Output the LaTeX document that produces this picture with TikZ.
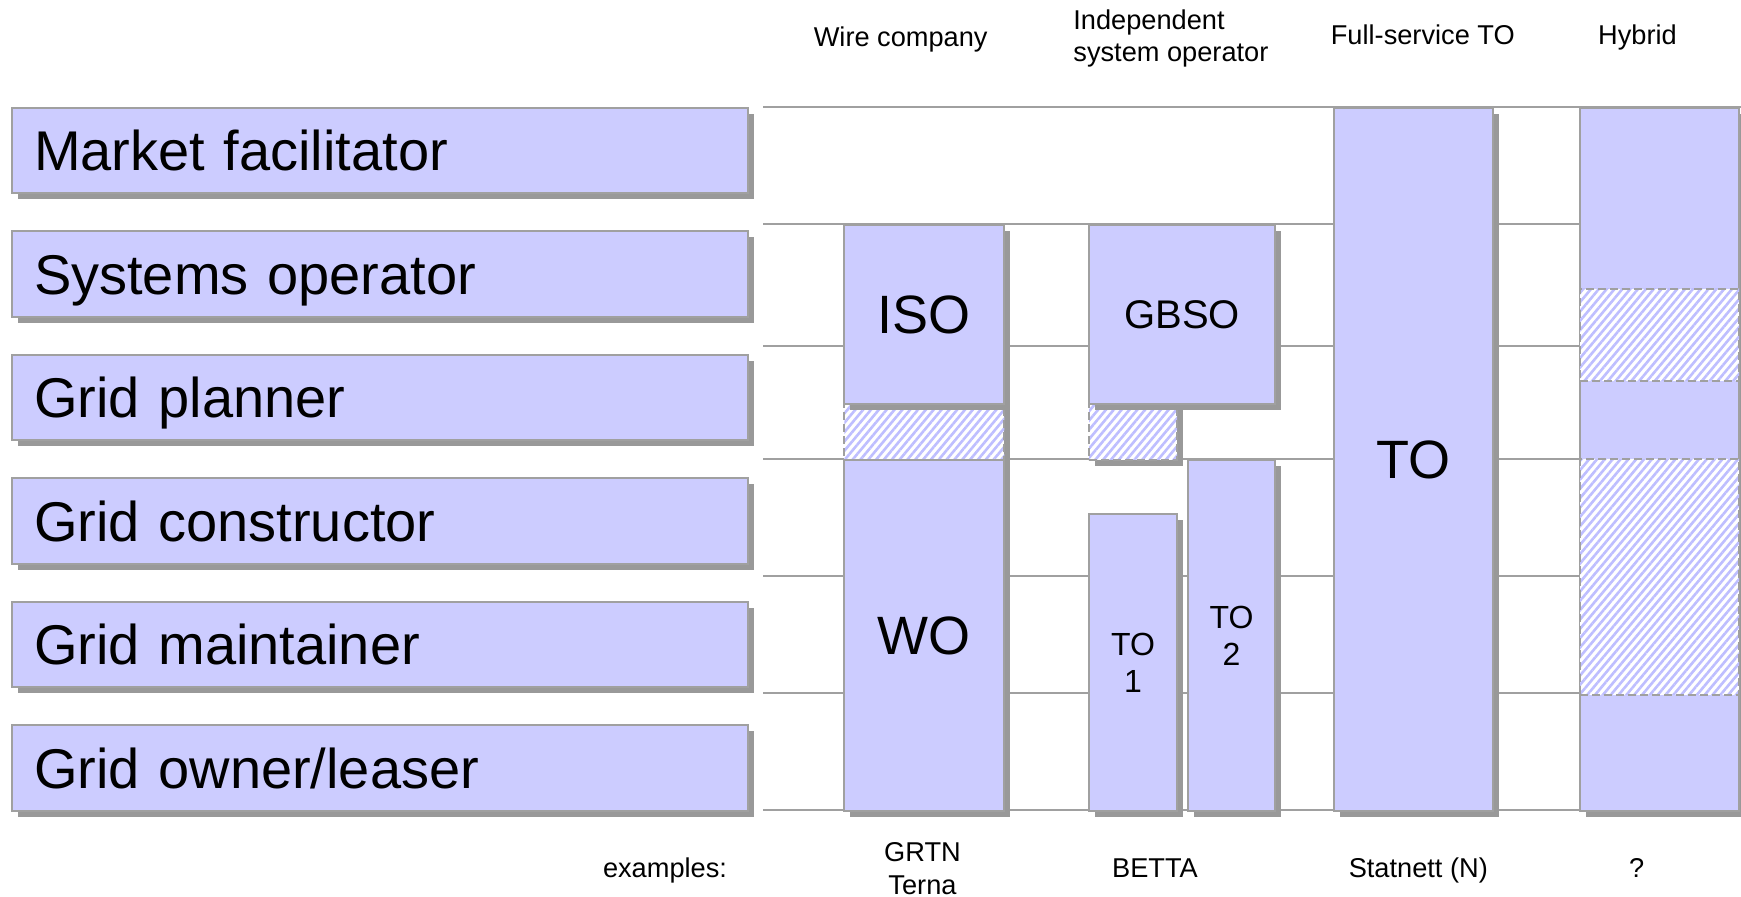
\documentclass[tikz,border=0pt]{standalone}
\usepackage{fontspec}
\setmainfont{Liberation Sans}
\usetikzlibrary{shadows,patterns.meta}

\definecolor{boxfill}{RGB}{204,204,255}
\definecolor{boxline}{RGB}{160,160,160}
\definecolor{shade}{RGB}{153,153,153}
\definecolor{hatch}{RGB}{190,190,255}

\newcommand{\rolesize}{\fontsize{28}{32}\selectfont}
\newcommand{\tagsize}{\fontsize{27}{32}\selectfont}
\newcommand{\gbsosize}{\fontsize{20}{24}\selectfont}
\newcommand{\tosize}{\fontsize{16}{18.5}\selectfont}
\newcommand{\notesize}{\fontsize{13.6}{16.2}\selectfont}

\begin{document}
\begin{tikzpicture}[x=0.5pt, y=-0.5pt,
  shadowed/.style={drop shadow={shadow xshift=3pt, shadow yshift=-3pt, fill=shade, opacity=1}},
  solidbox/.style={draw=boxline, line width=1pt, fill=boxfill, inner sep=0pt,
    anchor=north west, shadowed},
  hatchbase/.style={draw=boxline, line width=1pt, dash pattern=on 4pt off 2pt,
    inner sep=0pt, anchor=north west},
  hatchfill/.style={preaction={fill=white},
    pattern={Lines[angle=50, distance=3pt, line width=1.3pt]}, pattern color=hatch},
  hatchbox/.style={hatchbase, hatchfill},
  shadehatch/.style={hatchbase, shadowed, hatchfill},
  rolebox/.style={solidbox, minimum width=368pt, minimum height=42.75pt,
    text width=346pt, align=left, text height=20pt, text depth=0pt, font=\rolesize},
  gridline/.style={draw=boxline, line width=1pt},
  note/.style={font=\notesize, inner sep=0pt, anchor=base}
]
\useasboundingbox (0,0) rectangle (1741,897);

% horizontal guide lines behind the columns
\foreach \y in {107,224.5,346,459,576.5,693.5,810}
  \draw[gridline] (763,\y) -- (1741,\y);

% roles
\node[rolebox] (mf) at (11,107)   {Market facilitator};
\node[rolebox] (so) at (11,230.5) {Systems operator};
\node[rolebox] (gp) at (11,354)   {Grid planner};
\node[rolebox] (gc) at (11,477.5) {Grid constructor};
\node[rolebox] (gm) at (11,601)   {Grid maintainer};
\node[rolebox] (go) at (11,724.5) {Grid owner/leaser};

% wire company
\node[shadehatch, minimum width=80pt, minimum height=28pt] (isoh) at (843,403) {};
\node[solidbox, minimum width=80pt, minimum height=89.25pt, font=\tagsize] (iso) at (843,224.5) {ISO};
\node[solidbox, minimum width=80pt, minimum height=175.5pt, font=\tagsize] (wo) at (843,459) {WO};

% independent system operator
\node[shadehatch, minimum width=44pt, minimum height=28pt] (gbsoh) at (1088,403) {};
\node[solidbox, minimum width=93pt, minimum height=89.25pt, font=\gbsosize] (gbso) at (1088,224.5) {GBSO};
\node[solidbox, minimum width=44pt, minimum height=148.5pt, font=\tosize, align=center] (to1) at (1088,513) {TO\\1};
\node[solidbox, minimum width=43.5pt, minimum height=175.5pt, font=\tosize, align=center] (to2) at (1187,459) {TO\\2};

% full-service TO
\node[solidbox, minimum width=79.75pt, minimum height=351.5pt, font=\tagsize] (tofull) at (1332.5,107) {TO};

% hybrid
\node[solidbox, minimum width=79.5pt, minimum height=351.5pt] (hyb) at (1579,107) {};
\node[hatchbox, minimum width=79.5pt, minimum height=46.15pt] (hybh1) at (1579,287.7) {};
\node[hatchbox, minimum width=79.5pt, minimum height=117.75pt] (hybh2) at (1579,458.5) {};

% column headings
\node[note] (hwire) at (900.7,46.7) {Wire company};
\node[note, anchor=base west, align=left] (hiso) at (1073,61.7) {Independent\\system operator};
\node[note] (hfull) at (1422.8,45) {Full-service TO};
\node[note] (hhyb) at (1637.5,45) {Hybrid};

% examples
\node[note] (exlbl) at (665,877.3) {examples:};
\node[note, align=center] (exwire) at (922.5,894) {GRTN\\Terna};
\node[note] (exiso) at (1155,877.3) {BETTA};
\node[note] (exfull) at (1418.3,877.3) {Statnett (N)};
\node[note] (exhyb) at (1636.6,877.3) {?};
\end{tikzpicture}
\end{document}
